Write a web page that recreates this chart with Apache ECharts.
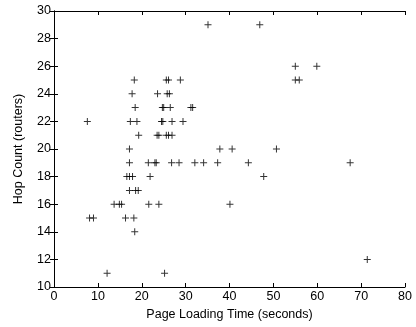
<!DOCTYPE html>
<html>
<head>
<meta charset="utf-8">
<script src="https://cdn.jsdelivr.net/npm/echarts@6/dist/echarts.min.js"></script>
<style>
  html, body { margin: 0; padding: 0; background: #fff; }
  #chart { width: 416px; height: 327px; }
</style>
</head>
<body>
<div id="chart"></div>
<script>
// page loading time (s) and hop count per measurement
const loadTimes = [
  35.1, 46.9,
  55.0, 59.9,
  18.3, 25.6, 26.1, 28.8, 55.0, 55.9,
  17.8, 23.6, 25.8, 26.3,
  18.5, 24.7, 25.0, 26.5, 31.2, 31.6,
  7.6, 17.4, 18.9, 24.5, 24.8, 26.9, 29.4,
  19.3, 23.5, 23.9, 25.6, 26.1, 26.9,
  17.2, 37.8, 40.6, 50.7,
  17.2, 21.5, 23.0, 23.3, 26.8, 28.5, 32.1, 34.1, 37.3, 44.3, 67.5,
  16.6, 17.2, 17.9, 21.9, 47.8,
  17.2, 18.6, 19.2,
  13.7, 14.9, 15.4, 21.6, 23.9, 40.1,
  8.1, 9.0, 16.3, 18.2,
  18.4,
  71.4,
  12.1, 25.2
]
const hopCounts = [
  29, 29,
  26, 26,
  25, 25, 25, 25, 25, 25,
  24, 24, 24, 24,
  23, 23, 23, 23, 23, 23,
  22, 22, 22, 22, 22, 22, 22,
  21, 21, 21, 21, 21, 21,
  20, 20, 20, 20,
  19, 19, 19, 19, 19, 19, 19, 19, 19, 19, 19,
  18, 18, 18, 18, 18,
  17, 17, 17,
  16, 16, 16, 16, 16, 16,
  15, 15, 15, 15,
  14,
  12,
  11, 11
]
const xTicks = [0, 10, 20, 30, 40, 50, 60, 70, 80]
const yTicks = [10, 12, 14, 16, 18, 20, 22, 24, 26, 28, 30]

const font = "Liberation Sans, Arial, sans-serif"
const fontSize = 12.5
const plus = "path://M3,0h1v3h3v1h-3v3h-1v-3h-3v-1h3z"

const chart = echarts.init(document.getElementById("chart"))

const xBase = {
  type: "value",
  min: xTicks[0],
  max: xTicks[xTicks.length - 1],
  interval: xTicks[1] - xTicks[0],
  axisLine: { show: true, lineStyle: { color: "#000", width: 1 } },
  axisTick: { show: true, inside: true, length: 4, lineStyle: { color: "#000" } },
  splitLine: { show: false },
}
const yBase = {
  type: "value",
  min: yTicks[0],
  max: yTicks[yTicks.length - 1],
  interval: yTicks[1] - yTicks[0],
  axisLine: { show: true, lineStyle: { color: "#000", width: 1 } },
  axisTick: { show: true, inside: true, length: 4, lineStyle: { color: "#000" } },
  splitLine: { show: false },
}

chart.setOption({
  animation: false,
  backgroundColor: "#fff",
  grid: { left: 54, right: 11, top: 11, bottom: 40 },
  xAxis: [
    {
      ...xBase,
      position: "bottom",
      name: "Page Loading Time (seconds)",
      nameLocation: "middle",
      nameGap: 17,
      nameTextStyle: { color: "#000", fontSize, fontFamily: font },
      axisLabel: { color: "#000", fontSize, fontFamily: font, margin: 3 },
    },
    { ...xBase, position: "top", axisLabel: { show: false } },
  ],
  yAxis: [
    {
      ...yBase,
      position: "left",
      name: "Hop Count (routers)",
      nameLocation: "middle",
      nameGap: 29,
      nameTextStyle: { color: "#000", fontSize, fontFamily: font },
      axisLabel: { color: "#000", fontSize, fontFamily: font, margin: 3 },
    },
    { ...yBase, position: "right", axisLabel: { show: false } },
  ],
  series: [
    {
      type: "scatter",
      symbol: plus,
      symbolSize: 7,
      itemStyle: { color: "#000" },
      data: loadTimes.map((t, i) => [t, hopCounts[i]]),
    },
  ],
})
</script>
</body>
</html>
